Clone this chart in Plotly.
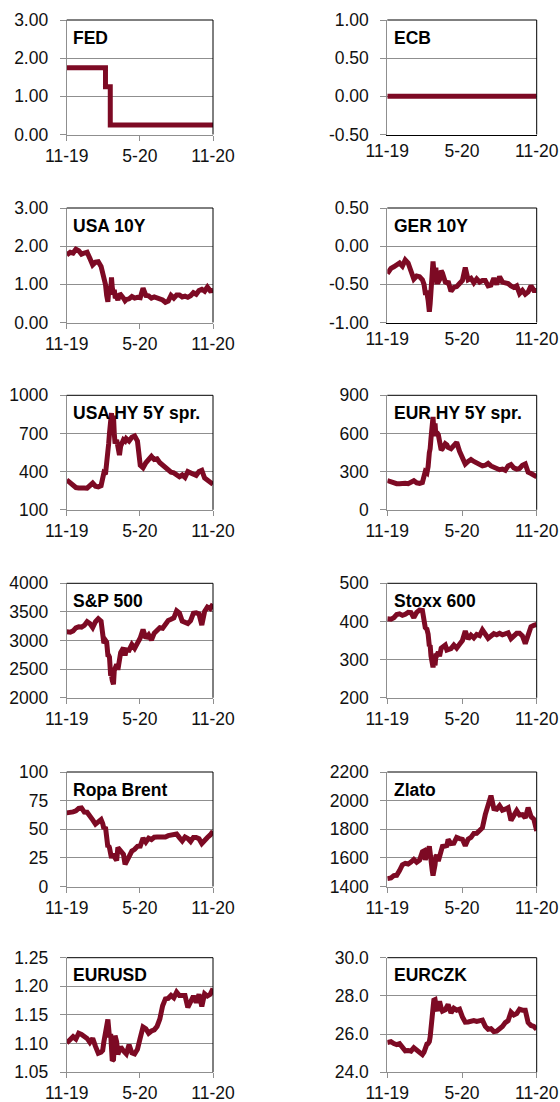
import plotly.graph_objects as go

# ---------------- data ----------------
dates = [
    "2019-11-27", "2019-12-06", "2019-12-13", "2019-12-20", "2019-12-27",
    "2020-01-03", "2020-01-10", "2020-01-17", "2020-01-24", "2020-01-31",
    "2020-02-07", "2020-02-14", "2020-02-21", "2020-02-25", "2020-02-28",
    "2020-03-03", "2020-03-06", "2020-03-09", "2020-03-11", "2020-03-13", "2020-03-16",
    "2020-03-18", "2020-03-20", "2020-03-23", "2020-03-25", "2020-03-27", "2020-03-31",
    "2020-04-03", "2020-04-07", "2020-04-10", "2020-04-17", "2020-04-21", "2020-04-24",
    "2020-05-01", "2020-05-08", "2020-05-15", "2020-05-22", "2020-05-29",
    "2020-06-05", "2020-06-12", "2020-06-19", "2020-06-26",
    "2020-07-03", "2020-07-10", "2020-07-17", "2020-07-24", "2020-07-31",
    "2020-08-07", "2020-08-14", "2020-08-21", "2020-08-28",
    "2020-09-04", "2020-09-11", "2020-09-18", "2020-09-25",
    "2020-10-02", "2020-10-09", "2020-10-16", "2020-10-23", "2020-10-30",
    "2020-11-06", "2020-11-13", "2020-11-20", "2020-11-27",
]

fed_dates = ["2019-11-27", "2020-03-03", "2020-03-15", "2020-11-27"]
fed_values = [1.75, 1.25, 0.25, 0.25]

ecb_dates = ["2019-11-27", "2020-11-27"]
ecb_values = [0.0, 0.0]

usa10y = [1.77, 1.84, 1.82, 1.92, 1.88,
          1.79, 1.82, 1.84, 1.68, 1.51,
          1.58, 1.59, 1.47, 1.33, 1.13,
          1.00, 0.71, 0.54, 0.82, 0.96, 0.73, 1.18, 0.92, 0.76, 0.86, 0.68, 0.67,
          0.59, 0.72, 0.73, 0.64, 0.57, 0.60,
          0.62, 0.68, 0.64, 0.66, 0.65,
          0.90, 0.71, 0.70, 0.64,
          0.67, 0.64, 0.63, 0.59, 0.53,
          0.56, 0.71, 0.64, 0.72,
          0.72, 0.67, 0.69, 0.66,
          0.70, 0.78, 0.74, 0.84, 0.87,
          0.82, 0.93, 0.83, 0.84]

ger10y = [-0.36, -0.29, -0.27, -0.24, -0.22,
          -0.26, -0.18, -0.22, -0.33, -0.43,
          -0.39, -0.40, -0.44, -0.50, -0.61,
          -0.61, -0.71, -0.86, -0.75, -0.54, -0.45, -0.20, -0.32, -0.32, -0.28, -0.47, -0.47,
          -0.44, -0.32, -0.35, -0.47, -0.48, -0.46,
          -0.59, -0.54, -0.53, -0.49, -0.45,
          -0.28, -0.44, -0.42, -0.48,
          -0.43, -0.47, -0.45, -0.45, -0.52,
          -0.51, -0.42, -0.50, -0.40,
          -0.47, -0.48, -0.49, -0.52,
          -0.54, -0.52, -0.62, -0.58, -0.63,
          -0.60, -0.52, -0.58, -0.58]

usa_hy = [335, 310, 290, 275, 272,
          275, 272, 270, 285, 310,
          285, 280, 290, 340, 390,
          380, 450, 560, 620, 700, 800, 860, 780, 840, 700, 620, 650,
          560, 530, 600, 650, 640, 660,
          640, 670, 680, 640, 450,
          430, 470, 500, 520,
          495, 500, 470, 450, 430,
          410, 395, 390, 380,
          360, 375, 355, 400,
          390, 370, 370, 400, 410,
          350, 335, 320, 300]

eur_hy = [230, 220, 210, 205, 205,
          210, 208, 205, 215, 228,
          212, 208, 215, 260, 300,
          290, 340, 450, 480, 560, 650, 730, 620, 680, 580, 610, 590,
          500, 470, 480, 520, 510, 490,
          480, 500, 530, 460, 400,
          360, 380, 395, 380,
          370, 360, 345, 350, 365,
          345, 335, 325, 315,
          320, 310, 345, 355,
          330, 320, 325, 350, 360,
          295, 285, 270, 260]

sp500 = [3153, 3146, 3169, 3221, 3240,
         3235, 3265, 3330, 3295, 3226,
         3328, 3380, 3338, 3128, 2954,
         3003, 2972, 2747, 2741, 2711, 2386, 2398, 2305, 2237, 2476, 2541, 2585,
         2489, 2659, 2790, 2875, 2737, 2837,
         2831, 2930, 2864, 2955, 3044,
         3194, 3041, 3098, 3009,
         3130, 3185, 3225, 3216, 3271,
         3351, 3373, 3397, 3520,
         3480, 3341, 3319, 3298,
         3348, 3477, 3484, 3465, 3270,
         3509, 3585, 3558, 3638]

stoxx600 = [407, 406, 410, 418, 420,
            416, 419, 424, 423, 410,
            424, 430, 429, 409, 384,
            380, 367, 335, 338, 310, 280, 280, 294, 285, 310, 310, 320,
            309, 330, 333, 338, 325, 327,
            329, 338, 330, 340, 350,
            375, 354, 364, 357,
            366, 363, 378, 369, 356,
            362, 368, 365, 369,
            365, 367, 370, 355,
            362, 369, 369, 362, 342,
            364, 386, 390, 392]

brent = [64.3, 64.4, 65.2, 66.1, 68.2,
         68.6, 65.0, 64.9, 60.7, 58.2,
         54.5, 57.3, 58.5, 55.0, 50.5,
         52.0, 45.3, 34.4, 35.8, 33.9, 30.1, 24.9, 27.0, 27.0, 27.4, 24.9, 22.7,
         34.1, 31.9, 31.5, 28.1, 19.3, 21.4,
         26.4, 31.0, 32.5, 35.1, 35.3,
         42.3, 38.7, 42.2, 41.0,
         43.0, 43.2, 43.1, 43.3, 43.3,
         44.4, 44.8, 44.4, 45.8,
         42.7, 39.8, 43.2, 41.9,
         39.3, 42.9, 42.9, 41.8, 37.5,
         39.5, 42.8, 45.0, 48.2]

gold = [1455, 1460, 1476, 1478, 1511,
        1552, 1562, 1557, 1571, 1589,
        1570, 1584, 1643, 1649, 1586,
        1640, 1674, 1680, 1636, 1530, 1512, 1477, 1499, 1553, 1611, 1617, 1577,
        1620, 1647, 1680, 1683, 1686, 1729,
        1700, 1703, 1743, 1735, 1730,
        1684, 1730, 1743, 1771,
        1772, 1798, 1810, 1902, 1975,
        2035, 1944, 1940, 1964,
        1933, 1940, 1950, 1862,
        1900, 1930, 1899, 1902, 1879,
        1951, 1889, 1870, 1788]

eurusd = [1.101, 1.106, 1.112, 1.108, 1.118,
          1.116, 1.112, 1.109, 1.102, 1.109,
          1.095, 1.083, 1.085, 1.088, 1.103,
          1.117, 1.129, 1.142, 1.127, 1.111, 1.117, 1.092, 1.070, 1.072, 1.088, 1.114, 1.103,
          1.081, 1.089, 1.094, 1.087, 1.085, 1.082,
          1.098, 1.084, 1.082, 1.090, 1.110,
          1.129, 1.126, 1.118, 1.122,
          1.124, 1.130, 1.143, 1.166, 1.178,
          1.179, 1.184, 1.180, 1.190,
          1.184, 1.184, 1.184, 1.163,
          1.172, 1.183, 1.172, 1.186, 1.165,
          1.187, 1.183, 1.186, 1.196]

eurczk = [25.55, 25.60, 25.50, 25.45, 25.50,
          25.35, 25.12, 25.14, 25.10, 25.28,
          25.14, 24.98, 24.92, 25.05, 25.36,
          25.47, 25.50, 25.60, 25.85, 26.50, 27.00, 27.50, 27.77, 27.80, 27.37, 27.30, 27.31,
          27.72, 27.36, 27.20, 27.27, 27.40, 27.55,
          27.10, 27.35, 27.25, 27.30, 26.90,
          26.62, 26.63, 26.67, 26.70,
          26.66, 26.68, 26.73, 26.40, 26.25,
          26.28, 26.13, 26.15, 26.25,
          26.40, 26.60, 26.70, 27.15,
          27.00, 27.07, 27.30, 27.25, 27.25,
          26.60, 26.45, 26.40, 26.25]

titles = ["FED", "ECB", "USA 10Y", "GER 10Y", "USA HY 5Y spr.", "EUR HY 5Y spr.",
          "S&P 500", "Stoxx 600", "Ropa Brent", "Zlato", "EURUSD", "EURCZK"]

x_tickvals = ["2019-11-27", "2020-05-28", "2020-11-27"]
x_ticktext = ["11-19", "5-20", "11-20"]

y_axes = [  # (low, high, step, format)
    (0, 3, 1, "{:.2f}"), (-0.5, 1.0, 0.5, "{:.2f}"),
    (0, 3, 1, "{:.2f}"), (-1.0, 0.5, 0.5, "{:.2f}"),
    (100, 1000, 300, "{:.0f}"), (0, 900, 300, "{:.0f}"),
    (2000, 4000, 500, "{:.0f}"), (200, 500, 100, "{:.0f}"),
    (0, 100, 25, "{:.0f}"), (1400, 2200, 200, "{:.0f}"),
    (1.05, 1.25, 0.05, "{:.2f}"), (24, 30, 2, "{:.1f}"),
]

series = [
    (fed_dates, fed_values, "hv"), (ecb_dates, ecb_values, "linear"),
    (dates, usa10y, "linear"), (dates, ger10y, "linear"),
    (dates, usa_hy, "linear"), (dates, eur_hy, "linear"),
    (dates, sp500, "linear"), (dates, stoxx600, "linear"),
    (dates, brent, "linear"), (dates, gold, "linear"),
    (dates, eurusd, "linear"), (dates, eurczk, "linear"),
]

# ---------------- layout geometry ----------------
W, H = 560, 1102
col_x = [(66.7, 213.0), (387.3, 536.7)]
row_top = [20.0, 208.0, 395.3, 583.3, 772.0, 957.7]
plot_h = 114.5

LINE_COLOR = "#7d0a24"
GRID = "#8f8f8f"
FONT = "Liberation Sans, Arial, sans-serif"
TXT = "#111111"
FS = 17.5

fig = go.Figure()
layout = dict(
    width=W, height=H, autosize=False,
    margin=dict(l=0, r=0, t=0, b=0, pad=0, autoexpand=False),
    paper_bgcolor="white", plot_bgcolor="white", showlegend=False,
    font=dict(family=FONT, size=FS, color=TXT),
)
shapes = []
annotations = []

for i in range(12):
    r, c = divmod(i, 2)
    n = i + 1
    xa = "xaxis" if n == 1 else f"xaxis{n}"
    ya = "yaxis" if n == 1 else f"yaxis{n}"
    xr = "x" if n == 1 else f"x{n}"
    yr = "y" if n == 1 else f"y{n}"
    x0, x1 = col_x[c]
    top = row_top[r]
    bot = top + plot_h
    lo, hi, step, fmt = y_axes[i]
    nt = int(round((hi - lo) / step))
    yvals = [round(lo + k * step, 6) for k in range(nt + 1)]
    ytext = [fmt.format(v) for v in yvals]
    neg_axis = lo < 0  # category axis crosses at zero

    xd, yd, shp = series[i]
    fig.add_trace(go.Scatter(
        x=xd, y=yd, mode="lines", line=dict(color=LINE_COLOR, width=5, shape=shp),
        xaxis=xr, yaxis=yr, hoverinfo="skip"))

    layout[xa] = dict(
        domain=[x0 / W, x1 / W], anchor=yr, type="date", automargin=False,
        range=[x_tickvals[0], x_tickvals[-1]],
        tickmode="array", tickvals=x_tickvals, ticktext=x_ticktext,
        ticks="" if neg_axis else "outside", ticklen=5, tickcolor=GRID,
        showgrid=False, showline=True, linecolor="#000000" if neg_axis else GRID,
        linewidth=1, zeroline=False, tickfont=dict(size=FS, color=TXT),
        fixedrange=True,
    )
    layout[ya] = dict(
        domain=[1 - bot / H, 1 - top / H], anchor=xr, automargin=False,
        range=[lo, hi], tickmode="array", tickvals=yvals, ticktext=ytext,
        ticks="outside", ticklen=6, tickcolor=GRID, ticklabelstandoff=8,
        showgrid=True, gridcolor=GRID, gridwidth=1,
        showline=True, linecolor=GRID, linewidth=1, zeroline=False,
        tickfont=dict(size=FS, color=TXT), fixedrange=True,
    )
    # top and right plot-area border (black)
    shapes.append(dict(type="line", xref=f"{xr} domain", yref=f"{yr} domain",
                       x0=0, x1=1, y0=1, y1=1, line=dict(color="#000000", width=1)))
    shapes.append(dict(type="line", xref=f"{xr} domain", yref=f"{yr} domain",
                       x0=1, x1=1, y0=0, y1=1, line=dict(color="#000000", width=1)))

    if neg_axis:
        # horizontal category axis crossing at zero, ticks only
        m = 20 + i
        frac = (0 - lo) / (hi - lo)
        layout[f"xaxis{m}"] = dict(
            domain=[x0 / W, x1 / W], overlaying=xr, anchor="free", automargin=False,
            position=1 - bot / H + frac * plot_h / H, type="date",
            range=[x_tickvals[0], x_tickvals[-1]],
            tickmode="array", tickvals=x_tickvals, ticktext=["", "", ""],
            ticks="outside", ticklen=5, tickcolor=GRID, showticklabels=False,
            showgrid=False, showline=True, linecolor=GRID, linewidth=1,
            zeroline=False, fixedrange=True,
        )

    annotations.append(dict(
        text=f"<b>{titles[i]}</b>", xref=f"{xr} domain", yref=f"{yr} domain",
        x=0.03, y=1 - 17.5 / plot_h, xanchor="left", yanchor="middle",
        showarrow=False, font=dict(family=FONT, size=FS, color="#000000"),
    ))

layout["shapes"] = shapes
layout["annotations"] = annotations
fig.update_layout(**layout)

fig.write_html(
    "out.html",
    config={"displayModeBar": False, "staticPlot": True},
    post_script="document.body.style.margin='0';document.body.style.overflow='hidden';",
)
